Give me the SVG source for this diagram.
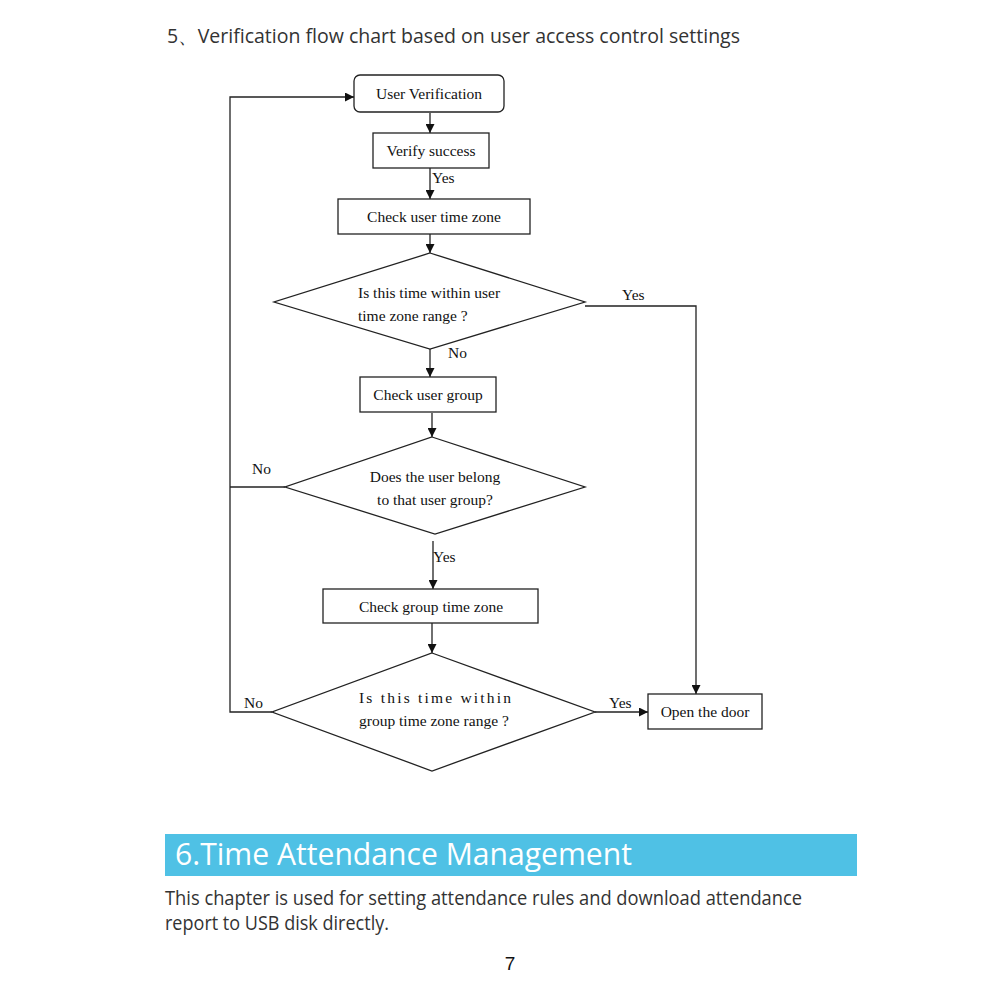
<svg xmlns="http://www.w3.org/2000/svg" width="1000" height="1000" viewBox="0 0 1000 1000">
<style>
.box{fill:#fff;stroke:#222;stroke-width:1.3}
.t{font-family:"Liberation Serif","Times New Roman",serif;font-size:15.5px;fill:#111}
.c{text-anchor:middle}
.ln{fill:none;stroke:#222;stroke-width:1.3}
.hd{font-family:"Open Sans","Noto Sans",sans-serif;fill:#333}
</style>
<defs>
<marker id="ar" viewBox="0 0 10 10" refX="10" refY="5" markerWidth="9" markerHeight="9" markerUnits="userSpaceOnUse" orient="auto">
<path d="M0,0 L10,5 L0,10 z" fill="#111"/>
</marker>
</defs>
<rect width="1000" height="1000" fill="#fff"/>
<text class="hd" x="167" y="43" font-size="20" textLength="573" lengthAdjust="spacingAndGlyphs">5、Verification flow chart based on user access control settings</text>

<g id="connectors">
<path class="ln" d="M430,113 V133" marker-end="url(#ar)"/>
<path class="ln" d="M430,168 V199" marker-end="url(#ar)"/>
<path class="ln" d="M430,234 V253" marker-end="url(#ar)"/>
<path class="ln" d="M430,349 V377" marker-end="url(#ar)"/>
<path class="ln" d="M432,413 V437" marker-end="url(#ar)"/>
<path class="ln" d="M433,541 V589" marker-end="url(#ar)"/>
<path class="ln" d="M432,623 V653" marker-end="url(#ar)"/>
<path class="ln" d="M595,712 H648" marker-end="url(#ar)"/>
<path class="ln" d="M585,306 H696 V694" marker-end="url(#ar)"/>
<path class="ln" d="M272,712 H230 V97 H354" marker-end="url(#ar)"/>
<path class="ln" d="M285,487 H230"/>
<text class="t" x="432" y="183">Yes</text>
<text class="t" x="622" y="300">Yes</text>
<text class="t" x="448" y="358">No</text>
<text class="t" x="252" y="474">No</text>
<text class="t" x="433" y="562">Yes</text>
<text class="t" x="609" y="708">Yes</text>
<text class="t" x="244" y="708">No</text>
</g>

<g id="user-verification">
<rect class="box" x="354" y="75" width="150" height="37" rx="6"/>
<text class="t c" x="429" y="99">User Verification</text>
</g>
<g id="verify-success">
<rect class="box" x="373" y="133" width="116" height="35"/>
<text class="t c" x="431" y="156">Verify success</text>
</g>
<g id="check-user-time-zone">
<rect class="box" x="338" y="199" width="192" height="35"/>
<text class="t c" x="434" y="222">Check user time zone</text>
</g>
<g id="user-time-decision">
<polygon class="box" points="430,253 585,302 430,349 274,302"/>
<text class="t" x="358" y="298">Is this time within user</text>
<text class="t" x="358" y="321">time zone range ?</text>
</g>
<g id="check-user-group">
<rect class="box" x="360" y="377" width="136" height="35"/>
<text class="t c" x="428" y="400">Check user group</text>
</g>
<g id="group-decision">
<polygon class="box" points="432,437 585,487 435,534 285,487"/>
<text class="t c" x="435" y="482">Does the user belong</text>
<text class="t c" x="435" y="505">to that user group?</text>
</g>
<g id="check-group-time-zone">
<rect class="box" x="323" y="589" width="215" height="34"/>
<text class="t c" x="431" y="612">Check group time zone</text>
</g>
<g id="group-time-decision">
<polygon class="box" points="432,653 595,712 432,771 272,712"/>
<text class="t" x="359" y="703" textLength="152" lengthAdjust="spacing">Is this time within</text>
<text class="t" x="359" y="726">group time zone range ?</text>
</g>
<g id="open-the-door">
<rect class="box" x="648" y="694" width="114" height="35"/>
<text class="t c" x="705" y="717">Open the door</text>
</g>

<rect x="165" y="834" width="692" height="42" fill="#4fc1e5"/>
<text x="175" y="865" font-family="Open Sans, Noto Sans, sans-serif" font-size="31" fill="#fff" textLength="457" lengthAdjust="spacingAndGlyphs">6.Time Attendance Management</text>
<text class="hd" x="165" y="905" font-size="20" fill="#4a4a4a" textLength="637" lengthAdjust="spacingAndGlyphs">This chapter is used for setting attendance rules and download attendance</text>
<text class="hd" x="165" y="930" font-size="20" fill="#4a4a4a" textLength="224" lengthAdjust="spacingAndGlyphs">report to USB disk directly.</text>
<text x="510" y="970" font-family="Liberation Sans, Arial, sans-serif" font-size="19" fill="#111" text-anchor="middle">7</text>
</svg>
